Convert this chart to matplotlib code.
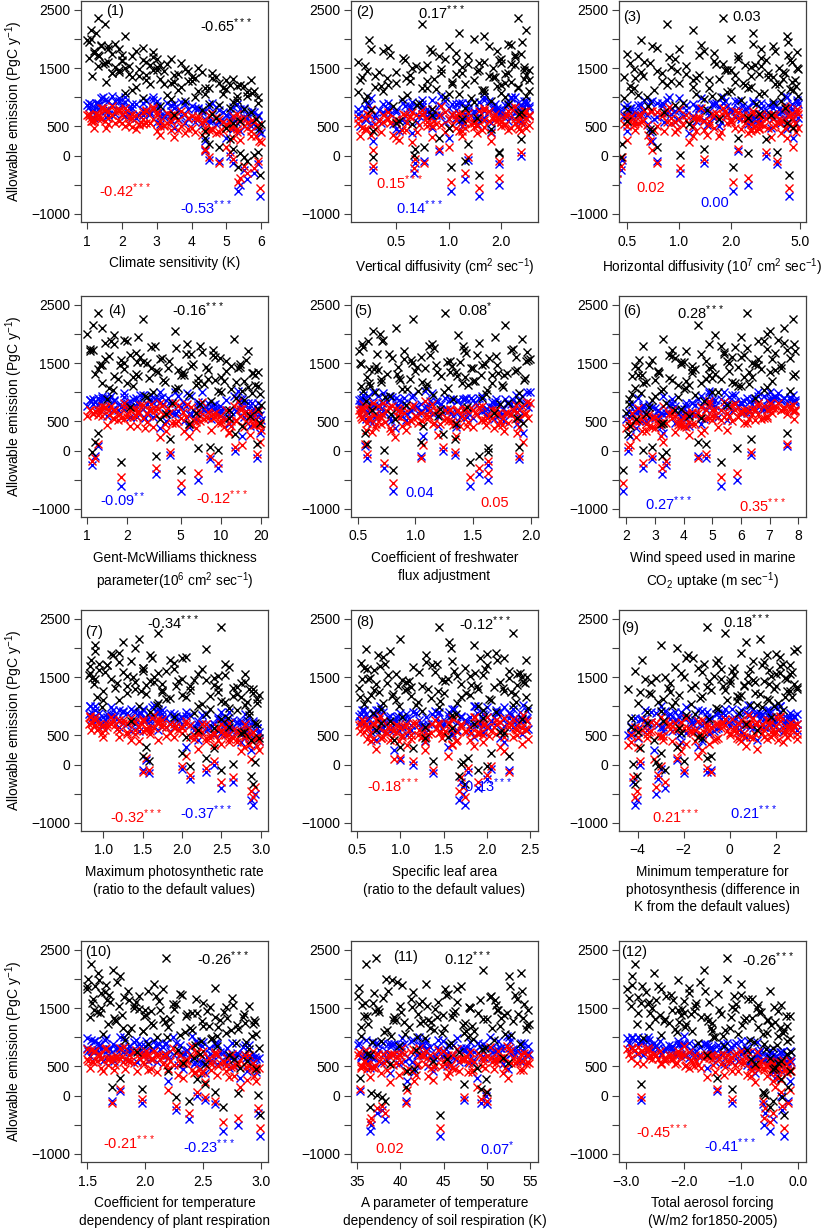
import matplotlib
matplotlib.use('Agg')
import matplotlib.pyplot as plt
import numpy as np

plt.rcParams['font.family'] = ['Liberation Sans', 'DejaVu Sans']
plt.rcParams['mathtext.fontset'] = 'custom'
plt.rcParams['mathtext.rm'] = 'Liberation Sans'
plt.rcParams['mathtext.it'] = 'Liberation Sans:italic'
plt.rcParams['mathtext.bf'] = 'Liberation Sans:bold'

# allowable emission of each ensemble member (PgC/yr), three scenarios
emis_black = [2350, 2250, 2150, 2050, 1980, 1920, 1880, 1850, 1800, 1770,
              1740, 1700, 1680, 1650, 1620, 1600, 1580, 1550, 1530, 1500,
              1480, 1460, 1440, 1420, 1400, 1380, 1360, 1340, 1320, 1300,
              1280, 1260, 1240, 1220, 1200, 1180, 1160, 1140, 1120, 1100,
              1080, 1060, 1040, 1020, 1000, 980, 960, 940, 900, 880,
              850, 820, 780, 740, 700, 650, 600, 540, 480, 420,
              300, 200, 120, 60, -20, 10, -100, 40, -200, -330,
              150, 280, 1900, 1720, 1610, 1560, 1470, 1450, 1350, 1330,
              1250, 1190, 1750, 1820, 1690, 2000, 1410, 1290, 1110, 1520,
              1870, 1790, 1730, 1660, 1640, 1590, 1570, 1540, 1510, 1490,
              1465, 1430, 1415, 1390, 1370, 1345, 1310, 1295, 1270, 1235,
              1210, 1170, 1150, 1130, 1090, 1050, 1010, 970, 920, 860,
              2100, 1950, 1830, 1710, 1630, 1575, 1495, 1455, 1385, 1325,
              1265, 1205, 1155, 1075, 1025, 790, 720, 630, 560, 460]
emis_blue = [900, 950, 880, 1000, 860, 930, 820, 900, 780, 950,
             860, 820, 900, 760, 880, 800, 920, 740, 860, 800,
             700, 850, 780, 900, 720, 820, 760, 680, 840, 740,
             800, 660, 780, 700, 820, 640, 760, 700, 620, 740,
             680, 600, 720, 650, 580, 700, 620, 560, 680, 600,
             540, 640, 520, 580, 480, 540, 420, 380, 300, 250,
             80, -80, -130, -150, -250, -300, -400, -500, -600, -700,
             -100, 0, 980, 720, 960, 680, 940, 620, 880, 600,
             860, 560, 640, 700, 1000, 760, 1020, 500, 820, 580,
             940, 880, 790, 930, 850, 760, 900, 820, 720, 880,
             800, 740, 860, 780, 700, 830, 760, 690, 850, 720,
             790, 680, 740, 650, 710, 630, 690, 610, 650, 570,
             900, 840, 980, 860, 780, 1000, 910, 660, 940, 810,
             890, 730, 840, 770, 880, 660, 600, 500, 460, 400]
emis_red = [700, 780, 650, 820, 700, 760, 620, 740, 600, 800,
            690, 640, 720, 580, 700, 650, 760, 560, 700, 620,
            520, 690, 600, 730, 540, 660, 590, 480, 680, 560,
            640, 470, 620, 520, 650, 450, 600, 540, 430, 580,
            500, 420, 560, 470, 400, 540, 450, 380, 520, 430,
            360, 480, 350, 420, 310, 380, 260, 230, 150, 100,
            120, -30, -60, -100, -180, -220, -300, -380, -450, -560,
            -120, 60, 820, 560, 780, 500, 760, 460, 720, 440,
            700, 400, 480, 540, 840, 600, 850, 340, 670, 420,
            760, 700, 620, 750, 690, 600, 730, 650, 560, 710,
            630, 580, 690, 610, 540, 660, 590, 520, 680, 560,
            620, 510, 580, 490, 550, 470, 530, 440, 490, 410,
            720, 680, 800, 700, 620, 820, 740, 500, 770, 650,
            720, 570, 690, 610, 720, 500, 450, 340, 300, 250]

# parameter values of the same members
clim_sens = [1.3, 1.5, 1.1, 2.1, 1.0, 1.8, 1.4, 2.6, 1.2, 2.9,
             1.7, 2.3, 1.05, 3.4, 2.0, 1.6, 3.7, 2.8, 1.3, 4.2,
             2.5, 3.0, 1.9, 4.6, 2.2, 3.5, 1.15, 4.0, 5.2, 2.7,
             3.9, 1.55, 4.8, 3.2, 5.5, 2.4, 4.4, 5.0, 3.6, 5.8,
             2.1, 4.9, 3.3, 5.6, 4.1, 2.6, 5.3, 3.8, 5.9, 4.5,
             3.1, 5.1, 4.3, 5.7, 3.5, 4.7, 5.4, 6.0, 5.0, 4.4,
             4.4, 4.5, 5.2, 5.9, 5.5, 5.8, 5.6, 5.4, 5.35, 5.98,
             4.8, 5.1, 1.4, 2.0, 2.7, 3.1, 1.9, 3.9, 2.3, 4.6,
             3.4, 5.3, 1.2, 1.6, 2.9, 1.1, 1.7, 5.7, 4.2, 3.0,
             1.6, 2.4, 1.3, 3.0, 2.0, 1.5, 3.3, 2.2, 1.8, 3.8,
             2.9, 4.3, 1.7, 3.6, 2.5, 4.7, 3.1, 5.0, 4.0, 2.8,
             5.4, 3.7, 4.9, 2.3, 5.6, 4.4, 5.9, 3.4, 5.2, 4.8,
             1.25, 1.05, 1.9, 1.35, 2.6, 1.45, 2.1, 3.2, 2.7, 4.1,
             3.5, 5.1, 4.5, 5.75, 5.3, 5.5, 4.6, 5.85, 5.2, 5.95]
vert_diff = [2.5, 0.7, 2.8, 1.6, 0.35, 2.2, 1.0, 0.45, 1.9, 0.8,
             2.6, 1.3, 0.55, 2.0, 1.1, 0.3, 1.5, 2.4, 0.65, 1.8,
             0.9, 2.9, 0.4, 1.2, 2.1, 0.6, 1.7, 0.32, 2.7, 1.4,
             0.75, 2.3, 0.5, 1.05, 1.9, 0.38, 2.5, 0.85, 1.55, 0.42,
             2.0, 1.15, 0.58, 2.8, 0.95, 1.35, 0.33, 1.75, 0.68, 2.2,
             0.48, 1.25, 0.36, 2.6, 0.8, 1.45, 0.52, 0.62, 1.0, 0.37,
             0.88, 1.3, 0.64, 1.95, 0.37, 0.63, 1.25, 1.95, 1.03, 1.5,
             0.72, 2.6, 2.3, 0.46, 1.6, 0.75, 2.7, 0.34, 1.85, 0.57,
             2.1, 0.41, 1.1, 0.78, 2.4, 1.4, 0.9, 0.31, 2.9, 1.2,
             1.7, 0.42, 2.4, 0.95, 0.56, 2.0, 1.3, 0.33, 2.7, 0.7,
             1.5, 0.5, 2.2, 1.1, 0.38, 1.8, 0.82, 2.9, 0.6, 1.25,
             0.45, 2.5, 0.75, 1.6, 0.3, 1.0, 2.1, 0.54, 1.4, 0.66,
             1.15, 2.65, 0.36, 0.88, 1.95, 2.3, 0.62, 1.45, 2.8, 0.44,
             1.05, 2.0, 0.7, 1.6, 0.34, 0.8, 2.55, 1.2, 0.5, 1.75]
horiz_diff = [1.8, 0.85, 1.2, 4.2, 0.6, 2.7, 3.5, 0.75, 1.4, 4.8,
              0.5, 2.2, 3.0, 0.95, 1.6, 4.5, 0.68, 2.4, 1.1, 3.8,
              0.55, 1.9, 4.0, 0.8, 2.9, 1.3, 0.62, 3.3, 1.7, 4.7,
              0.9, 2.1, 1.0, 3.6, 0.52, 2.6, 1.5, 4.4, 0.72, 2.0,
              3.1, 1.25, 0.58, 4.9, 1.75, 0.48, 2.3, 3.9, 1.05, 2.8,
              0.66, 4.1, 1.45, 0.82, 3.4, 2.5, 0.5, 1.15, 4.6, 0.7,
              2.2, 0.47, 1.4, 3.7, 0.46, 1.02, 0.44, 2.5, 2.05, 4.35,
              0.75, 3.2, 1.35, 4.3, 0.63, 2.75, 1.85, 0.98, 3.5, 0.56,
              2.35, 4.75, 1.6, 3.0, 0.88, 2.0, 4.1, 1.2, 0.53, 2.6,
              0.7, 3.6, 1.3, 2.2, 4.4, 0.52, 1.65, 3.0, 0.9, 4.9,
              2.0, 0.6, 3.3, 1.1, 2.6, 0.48, 4.0, 1.5, 0.8, 3.8,
              2.4, 1.2, 0.55, 4.6, 1.9, 2.9, 0.65, 1.4, 3.5, 0.95,
              2.7, 4.3, 1.0, 0.58, 3.2, 1.8, 4.8, 0.75, 2.1, 1.25,
              4.5, 0.85, 2.5, 3.9, 1.55, 0.5, 2.9, 1.7, 4.2, 0.68]
gm_thick = [1.2, 2.6, 1.1, 4.5, 1.6, 12.5, 2.0, 1.35, 7.0, 3.0,
            1.05, 16.0, 2.3, 5.5, 1.45, 9.0, 3.6, 1.8, 11.0, 2.8,
            6.2, 1.25, 14.0, 4.0, 1.9, 8.0, 3.3, 19.0, 1.15, 5.0,
            2.4, 10.0, 6.8, 1.7, 15.0, 3.8, 1.3, 7.5, 18.0, 2.2,
            4.8, 12.0, 1.55, 9.5, 3.1, 17.0, 5.8, 2.7, 13.0, 1.4,
            8.5, 4.3, 20.0, 2.1, 11.5, 6.5, 16.5, 3.5, 19.5, 14.5,
            1.2, 4.2, 18.5, 8.3, 1.08, 9.5, 3.3, 6.7, 1.8, 5.0,
            1.15, 12.8, 1.9, 8.8, 2.5, 15.5, 1.3, 6.0, 3.4, 17.5,
            2.9, 10.5, 4.6, 1.6, 7.2, 1.0, 13.5, 5.3, 19.0, 2.35,
            1.5, 3.2, 1.1, 6.0, 2.1, 9.8, 1.35, 4.1, 2.6, 14.0,
            1.75, 7.8, 3.0, 1.2, 11.0, 5.2, 2.3, 18.0, 1.6, 8.0,
            3.7, 13.0, 2.0, 6.5, 16.0, 4.5, 10.0, 19.5, 2.8, 15.0,
            1.3, 2.4, 5.6, 1.05, 8.8, 3.5, 1.9, 12.0, 4.8, 17.0,
            2.2, 9.0, 6.8, 1.45, 14.5, 7.0, 19.0, 3.9, 11.5, 5.8]
freshwater = [1.26, 0.98, 1.78, 0.63, 1.37, 1.92, 0.71, 1.55, 1.12, 0.55,
              1.85, 0.9, 1.44, 0.67, 1.7, 1.05, 0.8, 1.98, 1.3, 0.52,
              1.6, 1.18, 0.85, 1.48, 0.6, 1.88, 1.0, 1.35, 0.75, 1.66,
              1.22, 0.58, 1.95, 0.95, 1.52, 0.7, 1.4, 1.1, 1.75, 0.53,
              1.28, 0.88, 1.62, 1.02, 0.65, 1.9, 1.15, 0.78, 1.58, 1.33,
              0.57, 1.8, 0.92, 1.45, 0.62, 1.68, 1.2, 0.82, 1.93, 1.07,
              0.56, 1.34, 0.58, 1.9, 1.63, 0.73, 1.55, 1.63, 1.47, 0.81,
              1.05, 1.24, 0.72, 1.42, 1.87, 0.96, 1.58, 0.66, 1.3, 1.72,
              0.86, 1.5, 1.16, 0.54, 1.97, 0.69, 1.08, 1.77, 0.61, 1.39,
              0.59, 1.41, 1.83, 0.77, 1.13, 1.64, 0.9, 1.96, 1.27, 0.53,
              1.71, 1.01, 1.5, 0.64, 1.86, 1.19, 0.84, 1.57, 1.36, 0.7,
              1.94, 1.06, 0.6, 1.46, 1.76, 0.93, 1.25, 1.61, 0.74, 1.9,
              0.83, 1.69, 1.14, 0.51, 1.53, 1.99, 0.97, 1.32, 0.68, 1.79,
              1.43, 0.87, 1.66, 1.09, 0.55, 1.73, 1.21, 0.79, 1.88, 1.35]
wind_speed = [6.2, 7.8, 4.5, 7.0, 5.1, 3.3, 6.6, 7.5, 2.6, 5.8,
              6.9, 4.1, 7.2, 5.4, 3.6, 6.0, 7.7, 2.9, 4.8, 6.4,
              3.9, 7.4, 5.0, 2.4, 6.7, 4.3, 5.6, 3.1, 7.9, 4.9,
              2.2, 6.1, 3.5, 5.3, 7.1, 2.7, 4.6, 6.3, 3.8, 5.9,
              2.3, 4.0, 6.8, 3.2, 5.2, 2.5, 4.4, 3.0, 6.5, 2.1,
              4.7, 3.4, 5.5, 2.8, 3.7, 2.0, 4.2, 2.35, 3.3, 2.15,
              7.6, 6.35, 4.8, 2.9, 3.4, 2.6, 3.25, 5.85, 5.3, 1.9,
              4.5, 2.05, 7.3, 3.6, 5.7, 2.45, 6.6, 4.3, 7.0, 3.15,
              5.0, 4.1, 6.2, 7.85, 5.4, 6.9, 4.9, 2.55, 6.0, 3.9,
              6.8, 5.3, 7.6, 4.6, 6.1, 3.7, 7.1, 5.5, 4.0, 6.5,
              2.8, 5.9, 7.4, 4.4, 3.1, 6.3, 5.1, 2.4, 7.8, 4.8,
              3.6, 5.7, 2.6, 4.2, 6.9, 3.3, 5.0, 2.2, 3.8, 2.9,
              7.5, 6.0, 4.9, 7.9, 3.5, 6.6, 5.6, 2.3, 7.2, 4.3,
              6.4, 3.0, 5.8, 4.1, 7.7, 2.1, 3.9, 2.7, 4.6, 3.2]
photo_rate = [2.5, 1.7, 1.45, 0.9, 2.3, 1.2, 1.6, 2.05, 0.85, 1.35,
              1.9, 1.05, 2.6, 1.5, 0.95, 1.8, 1.25, 2.2, 0.82, 1.65,
              2.4, 1.1, 1.95, 1.4, 2.75, 0.88, 1.55, 2.1, 1.15, 2.9,
              1.75, 1.0, 2.45, 1.3, 2.0, 2.65, 0.92, 1.85, 2.95, 1.2,
              2.55, 1.7, 2.25, 2.8, 1.45, 0.98, 2.35, 2.7, 1.6, 2.15,
              2.85, 1.9, 2.5, 1.35, 2.95, 2.6, 2.2, 2.75, 2.05, 2.88,
              1.55, 2.0, 2.3, 1.58, 2.1, 2.65, 2.5, 2.92, 2.88, 2.9,
              1.5, 2.4, 1.1, 2.55, 1.5, 2.8, 0.9, 2.3, 1.3, 2.7,
              1.75, 2.98, 1.2, 2.0, 0.84, 1.4, 1.65, 2.85, 1.0, 2.45,
              1.12, 1.85, 0.95, 1.5, 2.25, 1.02, 1.7, 2.55, 1.3, 0.86,
              2.0, 1.6, 2.8, 1.18, 2.4, 1.92, 2.65, 1.4, 2.1, 2.9,
              1.55, 2.35, 2.75, 1.8, 2.5, 2.95, 2.2, 2.6, 2.85, 2.3,
              1.25, 0.9, 1.62, 1.05, 1.9, 0.83, 1.38, 2.15, 1.75, 2.45,
              1.48, 2.7, 2.05, 2.82, 1.68, 2.58, 2.92, 2.4, 2.78, 2.98]
leaf_area = [1.45, 2.3, 1.0, 1.85, 0.6, 2.1, 1.3, 0.8, 2.45, 1.6,
             0.55, 2.0, 1.15, 1.75, 0.7, 2.25, 1.4, 0.95, 1.95, 2.4,
             0.65, 1.55, 1.1, 2.15, 0.85, 1.7, 2.35, 1.25, 0.52, 1.9,
             1.05, 2.2, 0.75, 1.5, 1.8, 0.9, 2.45, 1.35, 0.62, 2.05,
             1.2, 1.65, 0.58, 2.3, 0.98, 1.45, 0.78, 1.95, 2.1, 0.68,
             1.6, 1.02, 2.4, 0.88, 1.85, 1.28, 0.72, 2.2, 1.55, 0.93,
             1.0, 2.05, 1.78, 1.38, 2.0, 1.7, 1.9, 1.72, 1.68, 1.75,
             2.25, 1.15, 2.0, 0.82, 1.62, 2.35, 0.56, 1.48, 1.88, 1.12,
             2.28, 0.66, 1.3, 1.92, 0.76, 1.58, 2.42, 1.08, 0.95, 1.8,
             0.74, 2.12, 1.42, 0.58, 1.98, 1.22, 2.38, 0.86, 1.66, 2.26,
             0.63, 1.52, 1.06, 2.44, 1.82, 0.97, 2.18, 1.32, 0.69, 1.76,
             2.32, 1.12, 0.53, 2.02, 1.46, 0.8, 1.9, 2.48, 1.25, 1.64,
             1.56, 0.88, 2.2, 1.36, 0.61, 1.86, 2.46, 1.02, 0.72, 2.08,
             1.44, 0.92, 1.7, 2.34, 1.18, 1.95, 0.78, 1.6, 2.15, 1.28]
min_temp = [-1.0, -0.2, 1.3, -3.0, 2.9, 0.5, -1.8, 2.2, -3.8, 1.0,
            -0.6, 2.6, -2.4, 0.2, 1.7, -4.1, -1.2, 2.0, 0.8, -2.0,
            2.4, -0.4, 1.5, -3.4, 0.0, 2.8, -1.5, 0.6, -2.7, 1.9,
            -0.8, 2.5, -3.9, 1.1, -2.2, 0.3, 2.7, -1.3, 1.6, -0.1,
            -3.1, 2.1, -1.7, 0.9, -2.5, 1.4, -0.5, 2.3, -3.6, 0.4,
            -1.9, 1.8, -0.9, -2.9, 0.7, -4.3, 1.2, -2.1, -1.4, -3.3,
            -2.3, -3.0, -1.0, -2.0, -3.1, -4.2, -2.8, -3.2, -4.05, -4.1,
            -0.8, -3.9, 2.0, -1.1, 0.1, 2.6, -3.7, 1.0, -0.3, 2.9,
            -2.6, 0.5, 1.5, -1.6, 2.2, -2.3, 0.8, -4.4, 1.7, -0.7,
            1.6, -0.5, 2.3, -1.4, 0.9, 2.7, -2.1, 0.2, 1.8, -3.2,
            2.5, -0.9, 1.1, -2.6, 0.6, 2.0, -1.7, 2.9, -0.2, -3.5,
            1.3, -1.2, 2.4, -2.9, 0.3, -4.0, 1.9, -0.6, -3.0, -1.5,
            0.7, 2.8, -1.9, 1.4, -0.4, 2.2, -2.8, 0.0, 1.7, -1.0,
            2.6, -3.4, 0.4, -2.4, 1.2, -4.3, -3.6, -2.2, -4.0, -1.2]
plant_resp = [2.18, 1.53, 1.72, 1.78, 1.6, 2.08, 1.5, 2.6, 1.85, 1.65,
              2.3, 1.95, 2.75, 1.55, 2.12, 1.7, 2.5, 1.9, 2.9, 1.62,
              2.25, 2.0, 1.58, 2.45, 2.85, 1.8, 2.35, 1.52, 2.15, 2.65,
              1.75, 2.95, 2.05, 1.68, 2.55, 2.2, 1.88, 2.8, 2.4, 1.98,
              2.7, 1.64, 2.3, 2.92, 2.1, 2.58, 1.83, 2.48, 2.78, 2.02,
              2.62, 2.98, 2.28, 1.93, 2.72, 2.42, 2.88, 2.52, 2.82, 2.2,
              1.78, 2.52, 1.97, 2.6, 2.27, 2.97, 2.38, 2.8, 2.67, 2.99,
              1.71, 2.45, 1.66, 2.32, 1.92, 2.76, 1.56, 2.05, 2.6, 1.73,
              2.86, 2.5, 1.62, 2.15, 1.82, 1.51, 2.4, 2.94, 1.98, 2.7,
              1.57, 2.02, 1.69, 2.44, 1.86, 1.54, 2.27, 1.77, 2.56, 1.95,
              2.13, 2.68, 1.61, 2.36, 1.99, 2.84, 2.21, 1.74, 2.49, 2.93,
              2.07, 2.63, 1.81, 2.74, 2.34, 2.96, 2.19, 2.57, 2.87, 2.43,
              1.59, 1.76, 1.5, 2.09, 1.67, 2.24, 1.9, 2.53, 2.01, 2.71,
              2.17, 2.79, 2.39, 1.85, 2.62, 2.9, 2.47, 2.77, 2.33, 2.96]
soil_resp = [37.2, 36.0, 49.5, 52.5, 39.0, 43.0, 47.0, 35.2, 54.0, 41.5,
             45.5, 50.5, 38.0, 53.5, 42.5, 46.5, 36.8, 51.0, 40.0, 48.0,
             44.0, 54.8, 37.5, 49.0, 42.0, 52.0, 35.8, 46.0, 50.0, 39.5,
             53.0, 43.5, 47.5, 36.3, 51.5, 41.0, 45.0, 54.5, 38.5, 48.5,
             44.8, 40.5, 52.8, 35.5, 47.8, 42.8, 50.8, 37.8, 45.8, 53.8,
             39.8, 49.8, 41.8, 46.8, 36.5, 51.8, 43.8, 38.8, 48.8, 40.8,
             35.3, 47.3, 49.3, 50.0, 37.9, 37.3, 38.2, 36.6, 36.5, 44.6,
             40.7, 49.9, 40.2, 53.2, 44.4, 35.6, 51.3, 46.3, 39.3, 54.2,
             42.3, 48.3, 36.9, 45.2, 50.3, 38.3, 52.3, 43.2, 47.6, 41.3,
             52.7, 38.6, 45.3, 41.2, 49.2, 35.9, 54.3, 43.1, 47.9, 37.4,
             51.2, 40.1, 46.1, 53.6, 36.2, 44.2, 49.6, 39.2, 42.6, 54.9,
             47.2, 35.4, 50.6, 43.9, 38.1, 52.1, 41.9, 48.4, 36.7, 45.6,
             53.9, 39.6, 46.6, 35.1, 50.9, 42.1, 48.1, 37.1, 44.9, 51.6,
             40.4, 54.6, 43.4, 47.4, 38.9, 49.4, 36.1, 45.4, 52.4, 41.6]
aerosol = [-1.25, -2.85, -1.65, -2.9, -2.1, -1.0, -2.45, -1.9, -0.5, -2.65,
           -1.4, -2.3, -2.95, -0.8, -2.0, -1.55, -2.75, -0.3, -1.8, -2.55,
           -1.1, -2.2, -0.65, -2.8, -1.35, -2.05, -0.15, -1.7, -2.5, -0.95,
           -2.35, -0.4, -1.5, -1.95, -2.6, -0.7, -1.2, -2.15, -0.25, -1.85,
           -0.55, -1.05, -2.4, -0.35, -1.45, -2.7, -0.85, -0.2, -1.75, -0.6,
           -1.3, -0.45, -0.9, -0.12, -1.6, -0.5, -0.3, -0.75, -0.4, -0.15,
           -1.42, -2.75, -1.15, -0.62, -0.28, -0.58, -0.45, -0.6, -0.5, -0.25,
           -0.18, -0.3, -2.9, -1.0, -2.6, -0.7, -2.1, -0.35, -1.6, -0.8,
           -2.25, -0.2, -1.9, -2.4, -2.8, -1.25, -2.0, -0.55, -1.5, -1.15,
           -2.72, -1.62, -2.22, -0.88, -2.48, -1.78, -1.08, -2.92, -0.42, -2.02,
           -1.38, -0.68, -2.58, -1.88, -0.22, -1.18, -2.32, -0.52, -1.58, -2.82,
           -0.98, -1.98, -0.32, -1.28, -2.12, -0.62, -1.48, -0.14, -0.78, -0.38,
           -2.52, -1.72, -2.98, -1.12, -2.18, -2.62, -0.72, -1.82, -2.42, -0.92,
           -2.08, -0.48, -1.52, -0.26, -1.32, -0.56, -0.2, -0.82, -0.36, -0.44]

# correlation coefficients written in each panel: (black, red, blue)
corr_text = [('-0.65***', '-0.42***', '-0.53***'),
             ('0.17***', '0.15***', '0.14***'),
             ('0.03', '0.02', '0.00'),
             ('-0.16***', '-0.12***', '-0.09**'),
             ('0.08*', '0.05', '0.04'),
             ('0.28***', '0.35***', '0.27***'),
             ('-0.34***', '-0.32***', '-0.37***'),
             ('-0.12***', '-0.18***', '-0.13***'),
             ('0.18***', '0.21***', '0.21***'),
             ('-0.26***', '-0.21***', '-0.23***'),
             ('0.12***', '0.02', '0.07*'),
             ('-0.26***', '-0.45***', '-0.41***')]

M = '\u2212'
panels = [
    dict(x=clim_sens, xlim=(0.82, 6.2), log=False,
         ticks=[1, 2, 3, 4, 5, 6], tlab=['1', '2', '3', '4', '5', '6'],
         xlabel='Climate sensitivity (K)',
         pos=[(0.134, 0.955), (0.636, 0.887), (0.096, 0.14), (0.53, 0.063)]),
    dict(x=vert_diff, xlim=(0.275, 3.27), log=True,
         ticks=[0.5, 1.0, 2.0], tlab=['0.5', '1.0', '2.0'],
         xlabel='Vertical diffusivity (cm$^{2}$ sec$^{-1}$)',
         pos=[(0.03, 0.95), (0.36, 0.945), (0.132, 0.176), (0.24, 0.063)]),
    dict(x=horiz_diff, xlim=(0.45, 5.44), log=True,
         ticks=[0.5, 1.0, 2.0, 5.0], tlab=['0.5', '1.0', '2.0', '5.0'],
         xlabel='Horizontal diffusivity (10$^{7}$ cm$^{2}$ sec$^{-1}$)',
         pos=[(0.02, 0.928), (0.607, 0.928), (0.095, 0.154), (0.433, 0.086)]),
    dict(x=gm_thick, xlim=(0.9, 22.5), log=True,
         ticks=[1, 2, 5, 10, 20], tlab=['1', '2', '5', '10', '20'],
         xlabel='Gent-McWilliams thickness\nparameter(10$^{6}$ cm$^{2}$ sec$^{-1}$)',
         pos=[(0.146, 0.932), (0.485, 0.94), (0.615, 0.086), (0.10, 0.077)]),
    dict(x=freshwater, xlim=(0.442, 2.063), log=False,
         ticks=[0.5, 1.0, 1.5, 2.0], tlab=['0.5', '1.0', '1.5', '2.0'],
         xlabel='Coefficient of freshwater\nflux adjustment',
         pos=[(0.016, 0.932), (0.572, 0.937), (0.694, 0.063), (0.289, 0.109)]),
    dict(x=wind_speed, xlim=(1.75, 8.27), log=False,
         ticks=[2, 3, 4, 5, 6, 7, 8], tlab=['2', '3', '4', '5', '6', '7', '8'],
         xlabel='Wind speed used in marine\nCO$_{2}$ uptake (m sec$^{-1}$)',
         pos=[(0.02, 0.932), (0.31, 0.923), (0.642, 0.05), (0.139, 0.059)]),
    dict(x=photo_rate, xlim=(0.72, 3.09), log=False,
         ticks=[1.0, 1.5, 2.0, 2.5, 3.0], tlab=['1.0', '1.5', '2.0', '2.5', '3.0'],
         xlabel='Maximum photosynthetic rate\n(ratio to the default values)',
         pos=[(0.021, 0.9), (0.351, 0.941), (0.155, 0.063), (0.53, 0.081)]),
    dict(x=leaf_area, xlim=(0.43, 2.59), log=False,
         ticks=[0.5, 1.0, 1.5, 2.0, 2.5], tlab=['0.5', '1.0', '1.5', '2.0', '2.5'],
         xlabel='Specific leaf area\n(ratio to the default values)',
         pos=[(0.027, 0.946), (0.58, 0.94), (0.086, 0.204), (0.583, 0.204)]),
    dict(x=min_temp, xlim=(-4.81, 3.31), log=False,
         ticks=[-4, -2, 0, 2], tlab=[M + '4', M + '2', '0', '2'],
         xlabel='Minimum temperature for\nphotosynthesis (difference in\nK from the default values)',
         pos=[(0.01, 0.919), (0.556, 0.946), (0.177, 0.063), (0.594, 0.081)]),
    dict(x=plant_resp, xlim=(1.446, 3.06), log=False,
         ticks=[1.5, 2.0, 2.5, 3.0], tlab=['1.5', '2.0', '2.5', '3.0'],
         xlabel='Coefficient for temperature\ndependency of plant respiration',
         pos=[(0.021, 0.95), (0.619, 0.919), (0.118, 0.086), (0.544, 0.068)]),
    dict(x=soil_resp, xlim=(34.3, 55.9), log=False,
         ticks=[35, 40, 45, 50, 55], tlab=['35', '40', '45', '50', '55'],
         xlabel='A parameter of temperature\ndependency of soil respiration (K)',
         pos=[(0.223, 0.928), (0.497, 0.919), (0.128, 0.059), (0.69, 0.059)]),
    dict(x=aerosol, xlim=(-3.127, 0.134), log=False,
         ticks=[-3.0, -2.0, -1.0, 0.0], tlab=[M + '3.0', M + '2.0', M + '1.0', '0.0'],
         xlabel='Total aerosol forcing\n(W/m2 for1850-2005)',
         pos=[(0.014, 0.95), (0.656, 0.914), (0.09, 0.136), (0.455, 0.072)]),
]

W, H = 834, 1231
col_left = [81, 351, 619]
row_top = [1, 296, 610, 941]
ax_w, ax_h = 187, 221
edge = '#404040'

fig = plt.figure(figsize=(W / 100, H / 100), dpi=100)

def fmt(s):
    # number followed by superscript significance stars
    if '*' in s:
        n = s.index('*')
        return s[:n] + '$^{' + s[n:] + '}$'
    return s

for i, p in enumerate(panels):
    r, c = divmod(i, 3)
    ax = fig.add_axes([col_left[c] / W, 1 - (row_top[r] + ax_h) / H,
                       ax_w / W, ax_h / H])
    x = np.array(p['x'])
    ax.plot(x, emis_blue, 'x', color='#0000ff', ms=5.5, mew=1.0)
    ax.plot(x, emis_red, 'x', color='#ff0000', ms=5.5, mew=1.0)
    ax.plot(x, emis_black, 'x', color='black', ms=5.5, mew=1.0)
    if p['log']:
        ax.set_xscale('log')
        ax.minorticks_off()
    ax.set_xlim(*p['xlim'])
    ax.set_xticks(p['ticks'])
    ax.set_xticklabels(p['tlab'])
    ax.set_ylim(-1140, 2650)
    ax.set_yticks(range(-1000, 2501, 500))
    ax.set_yticklabels([M + '1000', '', '0', '500', '', '1500', '', '2500'])
    ax.tick_params(axis='both', direction='out', length=5, width=0.8,
                   color=edge, labelsize=10)
    ax.tick_params(axis='x', pad=4)
    ax.tick_params(axis='y', pad=3)
    for sp in ax.spines.values():
        sp.set_color(edge)
        sp.set_linewidth(0.9)
    ax.text(0.5, -0.155, p['xlabel'], transform=ax.transAxes, ha='center',
            va='top', fontsize=9.8, linespacing=1.3)
    if c == 0:
        ax.set_ylabel('Allowable emission (PgC y$^{-1}$)', fontsize=10)
        ax.yaxis.set_label_coords(-0.3, 0.5)
    pos = p['pos']
    ax.text(*pos[0], '(%d)' % (i + 1), transform=ax.transAxes,
            ha='left', va='center', fontsize=10.5)
    cb, cr, cu = corr_text[i]
    for txt, col, xy in [(cb, 'black', pos[1]), (cr, '#ff0000', pos[2]),
                         (cu, '#0000ff', pos[3])]:
        ax.text(*xy, fmt(txt), transform=ax.transAxes, ha='left',
                va='center', fontsize=10.5, color=col)

fig.savefig('out.png', dpi=100)
